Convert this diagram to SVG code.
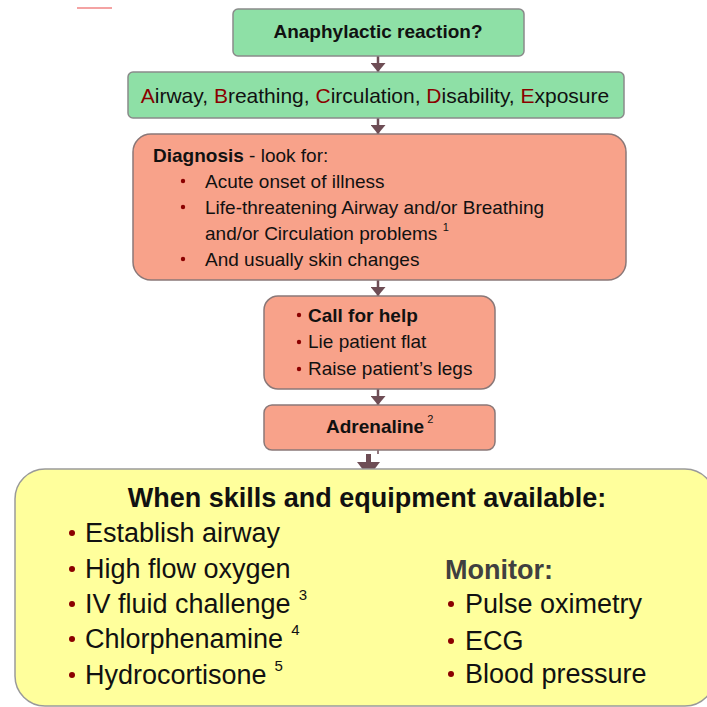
<svg xmlns="http://www.w3.org/2000/svg" width="707" height="707" viewBox="0 0 707 707">
<defs>
<style>
.t{font-family:"Liberation Sans",Arial,sans-serif;fill:#111}
.b{font-weight:bold}
.green{fill:#8ee0a6;stroke:#8a8a8a;stroke-width:1.5}
.salmon{fill:#f8a28a;stroke:#8a7878;stroke-width:1.5}
.yellow{fill:#ffff9c;stroke:#9a9a9a;stroke-width:1.5}
.bul{fill:#8b0000}
.red{fill:#8b0000}
.ar{stroke:#6e4d55;stroke-width:2.5;fill:none}
.s19{font-size:19px}
.s27{font-size:27px}
</style>
<marker id="ah" markerUnits="userSpaceOnUse" viewBox="0 0 9 15" markerWidth="9" markerHeight="15" refX="9" refY="7.5" orient="auto">
<path d="M0,0 L9,7.5 L0,15 z" fill="#6e4d55"/>
</marker>
<marker id="ahb" markerUnits="userSpaceOnUse" viewBox="0 0 15 23" markerWidth="15" markerHeight="23" refX="15" refY="11.5" orient="auto">
<path d="M0,0 L15,11.5 L0,23 z" fill="#6e4d55"/>
</marker>
</defs>
<rect width="707" height="707" fill="#ffffff"/>
<line x1="77" y1="8" x2="112" y2="8" stroke="#f4a3a3" stroke-width="2"/>

<g id="connectors">
<line class="ar" x1="378" y1="56" x2="378" y2="72" marker-end="url(#ah)"/>
<line class="ar" x1="378" y1="118" x2="378" y2="134" marker-end="url(#ah)"/>
<line class="ar" x1="378" y1="280" x2="378" y2="296" marker-end="url(#ah)"/>
<line class="ar" x1="378" y1="389" x2="378" y2="405" marker-end="url(#ah)"/>
<line x1="378" y1="450" x2="378" y2="454" stroke="#6e4d55" stroke-width="1.5"/>
<line x1="368.5" y1="454" x2="368.5" y2="477" stroke="#6e4d55" stroke-width="5" marker-end="url(#ahb)"/>
</g>

<g id="start">
<rect class="green" x="233" y="9" width="291" height="47" rx="5"/>
<text class="t b s19" x="378" y="38" text-anchor="middle">Anaphylactic reaction?</text>
</g>

<g id="abcde">
<rect class="green" x="128" y="72" width="496" height="46" rx="5"/>
<text class="t" x="375" y="103" font-size="21" text-anchor="middle"><tspan class="red">A</tspan>irway, <tspan class="red">B</tspan>reathing, <tspan class="red">C</tspan>irculation, <tspan class="red">D</tspan>isability, <tspan class="red">E</tspan>xposure</text>
</g>

<g id="diagnosis">
<rect class="salmon" x="133" y="134" width="493" height="146" rx="18"/>
<text class="t s19" x="153" y="162"><tspan class="b">Diagnosis</tspan> - look for:</text>
<circle class="bul" cx="183" cy="181" r="2.2"/>
<circle class="bul" cx="183" cy="207" r="2.2"/>
<circle class="bul" cx="183" cy="259" r="2.2"/>
<text class="t s19" x="205" y="188">Acute onset of illness</text>
<text class="t s19" x="205" y="214">Life-threatening Airway and/or Breathing</text>
<text class="t s19" x="205" y="240">and/or Circulation problems <tspan font-size="11" dy="-9">1</tspan></text>
<text class="t s19" x="205" y="266">And usually skin changes</text>
</g>

<g id="call">
<rect class="salmon" x="264" y="296" width="231" height="93" rx="14"/>
<circle class="bul" cx="299" cy="315" r="2.2"/>
<circle class="bul" cx="299" cy="342" r="2.2"/>
<circle class="bul" cx="299" cy="369" r="2.2"/>
<text class="t b s19" x="308" y="322">Call for help</text>
<text class="t s19" x="308" y="348">Lie patient flat</text>
<text class="t s19" x="308" y="375">Raise patient’s legs</text>
</g>

<g id="adrenaline">
<rect class="salmon" x="264" y="405" width="231" height="45" rx="8"/>
<text class="t b s19" x="326" y="433">Adrenaline<tspan font-size="11" font-weight="normal" dx="3" dy="-10">2</tspan></text>
</g>

<g id="skills">
<rect class="yellow" x="15" y="469" width="700" height="237" rx="30"/>
<text class="t b s27" x="367" y="507" text-anchor="middle">When skills and equipment available:</text>
<circle class="bul" cx="72" cy="533" r="3"/>
<circle class="bul" cx="72" cy="569" r="3"/>
<circle class="bul" cx="72" cy="604" r="3"/>
<circle class="bul" cx="72" cy="639" r="3"/>
<circle class="bul" cx="72" cy="675" r="3"/>
<text class="t s27" x="85" y="542">Establish airway</text>
<text class="t s27" x="85" y="578">High flow oxygen</text>
<text class="t s27" x="85" y="613">IV fluid challenge<tspan font-size="15" dx="8" dy="-13">3</tspan></text>
<text class="t s27" x="85" y="648">Chlorphenamine<tspan font-size="15" dx="8" dy="-13">4</tspan></text>
<text class="t s27" x="85" y="684">Hydrocortisone<tspan font-size="15" dx="8" dy="-13">5</tspan></text>
<text class="t b s27" x="445" y="579" fill="#404040" style="fill:#404040">Monitor:</text>
<circle class="bul" cx="451" cy="604" r="3"/>
<circle class="bul" cx="451" cy="641" r="3"/>
<circle class="bul" cx="451" cy="674" r="3"/>
<text class="t s27" x="465" y="613">Pulse oximetry</text>
<text class="t s27" x="465" y="650">ECG</text>
<text class="t s27" x="465" y="683">Blood pressure</text>
</g>
</svg>
